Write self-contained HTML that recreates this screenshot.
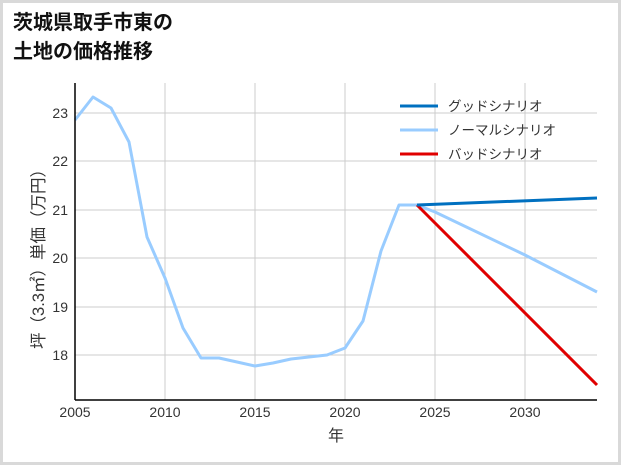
<!DOCTYPE html>
<html><head><meta charset="utf-8"><style>
body{margin:0;background:#fff}
svg{display:block;font-family:"Liberation Sans","Noto Sans CJK JP",sans-serif}
</style></head><body>
<svg width="621" height="465" viewBox="0 0 621 465">
<rect x="1.5" y="1.5" width="618" height="462" fill="#fff" stroke="#d9d9d9" stroke-width="3"/>
<text x="13" y="29" font-size="20" font-weight="bold" fill="#111">茨城県取手市東の</text>
<text x="13" y="58" font-size="20" font-weight="bold" fill="#111">土地の価格推移</text>
<g stroke="#cccccc" stroke-width="1">
<line x1="165" y1="83" x2="165" y2="400"/><line x1="255" y1="83" x2="255" y2="400"/>
<line x1="345" y1="83" x2="345" y2="400"/><line x1="435" y1="83" x2="435" y2="400"/>
<line x1="525" y1="83" x2="525" y2="400"/>
<line x1="75" y1="113" x2="597" y2="113"/><line x1="75" y1="161" x2="597" y2="161"/>
<line x1="75" y1="210" x2="597" y2="210"/><line x1="75" y1="258" x2="597" y2="258"/>
<line x1="75" y1="307" x2="597" y2="307"/><line x1="75" y1="355" x2="597" y2="355"/>
</g>
<g fill="none" stroke-width="3" stroke-linejoin="round">
<polyline stroke="#99ccff" points="75,120 93,97 111,108 129,142 147,237 165,278 183,328 201,358 219,358 237,362 255,366 273,363 291,359 309,357 327,355 345,348 363,321 381,251 399,205 417,205 435,212 525,255 597,292"/>
<polyline stroke="#e00000" points="417,205 597,385"/>
<polyline stroke="#0070c0" points="417,205 597,198"/>
</g>
<g stroke="#000" stroke-width="1.5"><line x1="75" y1="83" x2="75" y2="400"/><line x1="75" y1="400" x2="597" y2="400"/></g>
<g font-size="14" fill="#333" text-anchor="end">
<text x="68" y="118">23</text><text x="68" y="166">22</text><text x="68" y="215">21</text>
<text x="68" y="263">20</text><text x="68" y="312">19</text><text x="68" y="360">18</text>
</g>
<g font-size="14" fill="#333" text-anchor="middle">
<text x="75" y="417">2005</text><text x="165" y="417">2010</text><text x="255" y="417">2015</text>
<text x="345" y="417">2020</text><text x="435" y="417">2025</text><text x="525" y="417">2030</text>
<text x="336" y="441" font-size="16">年</text>
</g>
<text transform="translate(44,255) rotate(-90)" font-size="16.5" fill="#333" text-anchor="middle">坪（3.3㎡）単価（万円）</text>
<g font-size="13.5" fill="#333">
<line x1="400" y1="106" x2="438" y2="106" stroke="#0070c0" stroke-width="3"/><text x="448" y="111">グッドシナリオ</text>
<line x1="400" y1="130" x2="438" y2="130" stroke="#99ccff" stroke-width="3"/><text x="448" y="135">ノーマルシナリオ</text>
<line x1="400" y1="154" x2="438" y2="154" stroke="#e00000" stroke-width="3"/><text x="448" y="159">バッドシナリオ</text>
</g>
</svg>
</body></html>
